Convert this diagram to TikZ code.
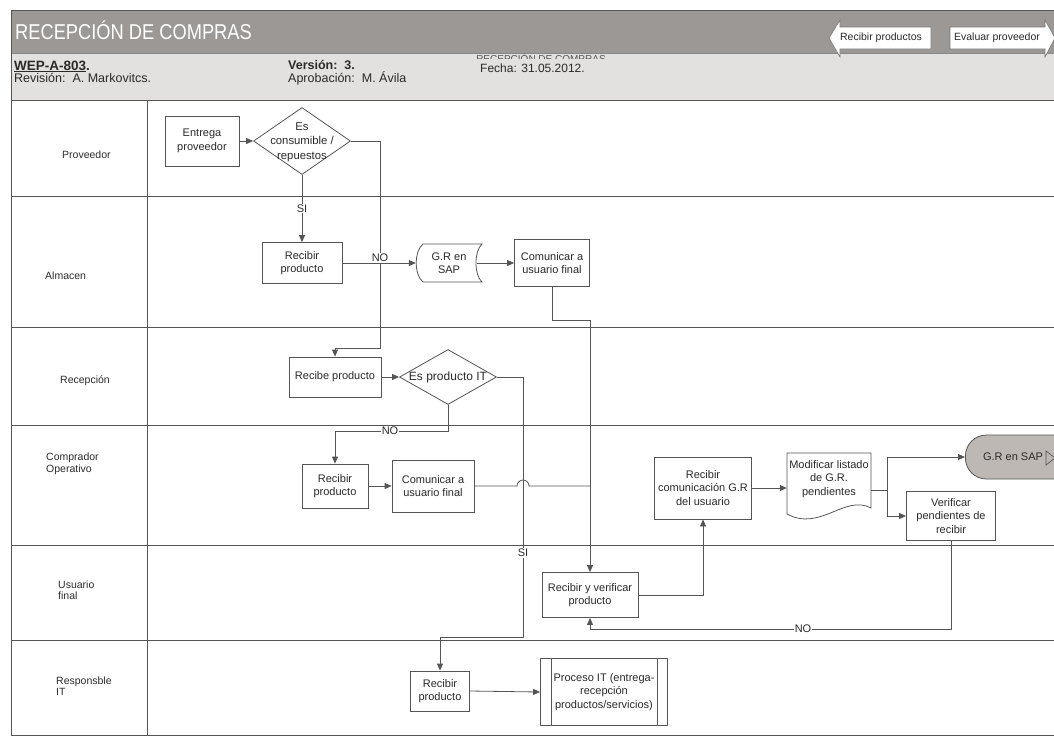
\documentclass[tikz,border=0pt]{standalone}
\usepackage{fontspec}
\setmainfont{Liberation Sans}
\newfontfamily\narrowfont[FakeStretch=0.85]{Liberation Sans}
\usetikzlibrary{shapes.geometric,arrows.meta,calc}

\definecolor{ink}{HTML}{2A2A2A}
\definecolor{rule}{HTML}{555555}
\definecolor{band}{HTML}{9C9895}
\definecolor{bandlight}{HTML}{E3E1DF}
\definecolor{termfill}{HTML}{BDB8B4}

\tikzset{
  box/.style={draw=rule, line width=0.8pt, fill=white, align=center, inner sep=1pt,
              font=\fontsize{11}{13.5}\selectfont, text=ink},
  dia/.style={draw=rule, line width=0.8pt, fill=white, shape=diamond, inner sep=0pt},
  txt/.style={align=center, font=\fontsize{11}{13.5}\selectfont, text=ink, inner sep=0pt},
  flow/.style={draw=rule, line width=0.8pt, -{Triangle[length=7pt,width=6pt]}},
  link/.style={draw=rule, line width=0.8pt},
  lbl/.style={fill=white, inner sep=1pt, font=\fontsize{11}{12}\selectfont, text=ink},
  lane/.style={draw=rule, line width=1pt},
  lanename/.style={align=left, font=\fontsize{10.5}{11.5}\selectfont, text=ink, anchor=west, inner sep=0pt},
  headtxt/.style={anchor=base west, inner sep=0pt, text=ink, font=\fontsize{12.5}{13}\selectfont},
  tab/.style={draw=rule!80, fill=white, line width=0.6pt},
}

\begin{document}
\begin{tikzpicture}[x=1pt, y=-1pt]
\useasboundingbox (0,0) rectangle (1054,740);
\begin{scope}
\clip (0,0) rectangle (1054,740);

% ---------- header ----------
\fill[band] (11,10) rectangle (1060,53);
\fill[bandlight] (11,53) rectangle (1060,100);
\draw[rule, line width=0.8pt] (11,10) -- (1060,10);
\draw[rule!70, line width=0.6pt] (11,53) -- (1060,53);

\node[anchor=base west, inner sep=0pt, text=white,
      font=\narrowfont\fontsize{21.5}{21.5}\selectfont] (title) at (15,39.5) {RECEPCIÓN DE COMPRAS};

% navigation arrows
\draw[tab] (931,27) -- (840,27) -- (840,20) -- (829,38) -- (840,57) -- (840,49) -- (931,49) -- cycle;
\node[txt, font=\fontsize{10.5}{11}\selectfont] (navprev) at (881,38) {Recibir productos};
\draw[tab] (950,27) -- (1045,27) -- (1045,20) -- (1055,38) -- (1045,57) -- (1045,49) -- (950,49) -- cycle;
\node[txt, font=\fontsize{10.5}{11}\selectfont] (navnext) at (997,38) {Evaluar proveedor};

% faint page caption under the title band
\begin{scope}
  \clip (440,53) rectangle (640,58.5);
  \node[anchor=base, inner sep=0pt, text=ink!80, font=\fontsize{10}{10}\selectfont] (cap) at (541,62) {RECEPCIÓN DE COMPRAS};
\end{scope}

\node[headtxt, font=\bfseries\fontsize{13.5}{14}\selectfont] (code) at (14,70) {\underline{WEP-A-803}.};
\node[headtxt] (rev) at (14,82) {Revisión:\ \ A. Markovitcs.};
\node[headtxt, font=\bfseries\fontsize{12.5}{13}\selectfont] (ver) at (288,69) {Versión:\ \ 3.};
\node[headtxt] (apr) at (288,82) {Aprobación:\ \ M. Ávila};
\node[headtxt, font=\fontsize{12}{13}\selectfont] (date) at (480,72) {Fecha: 31.05.2012.};

% ---------- swimlanes ----------
\draw[lane] (11,10) -- (11,735);
\draw[lane] (147,100) -- (147,735);
\foreach \yy in {100,196,327,425,545,640,735}
  \draw[lane] (11,\yy) -- (1060,\yy);

\node[lanename] (l1) at (62,155) {Proveedor};
\node[lanename] (l2) at (45,276) {Almacen};
\node[lanename] (l3) at (60,381) {Recepción};
\node[lanename] (l4) at (46,464) {Comprador\\Operativo};
\node[lanename] (l5) at (58,590) {Usuario\\final};
\node[lanename] (l6) at (56,686) {Responsble\\IT};

% ---------- steps ----------
\node[box, minimum width=74, minimum height=50] (ent) at (202,141) {Entrega\\proveedor};
\node[dia, minimum width=97, minimum height=67] (d1) at (302,141) {};
\node[txt, font=\fontsize{11.3}{14.5}\selectfont] (d1t) at (302,142) {Es\\consumible /\\repuestos};

\node[box, minimum width=80, minimum height=41] (alm1) at (302,263) {Recibir\\producto};
\node[txt, minimum width=66, minimum height=38] (gr1) at (449,263) {};
\draw[rule, line width=0.8pt, fill=white]
  (423,244) .. controls (414,251) and (414,275) .. (423,282) -- (482,282)
  .. controls (474,275) and (474,251) .. (482,244) -- cycle;
\node[txt] at (gr1) {G.R en\\SAP};
\node[box, minimum width=75, minimum height=47] (alm2) at (552,263) {Comunicar a\\usuario final};

\node[box, minimum width=92, minimum height=40] (rec1) at (335,377) {Recibe producto};
\node[dia, minimum width=97, minimum height=55] (d2) at (448,377) {};
\node[txt, font=\fontsize{12}{13}\selectfont] (d2t) at (448,377) {Es producto IT};

\node[box, minimum width=66, minimum height=44] (co1) at (335,486) {Recibir\\producto};
\node[box, minimum width=82, minimum height=52] (co2) at (433,486) {Comunicar a\\usuario final};
\node[box, minimum width=97, minimum height=62] (co3) at (703,488) {Recibir\\comunicación G.R\\del usuario};
\node[txt, minimum width=84, minimum height=55] (co4) at (829,480) {};
\draw[rule, line width=0.8pt, fill=white]
  (787,453) -- (871,453) -- (871,508)
  .. controls (845,494) and (820,532) .. (787,514) -- cycle;
\node[txt] at (829,479) {Modificar listado\\de G.R.\\pendientes};
\node[box, minimum width=89, minimum height=49] (co5) at (951,516) {Verificar\\pendientes de\\recibir};
\node[draw=rule, line width=0.8pt, fill=termfill, rounded corners=21, anchor=west,
      minimum width=125, minimum height=44] (term) at (965,457) {};
\node[txt] (termt) at (1013,457) {G.R en SAP};
\draw[rule, line width=0.7pt] (1046,451) -- (1055,458) -- (1046,465) -- cycle;

\node[box, minimum width=96, minimum height=45] (uf1) at (590,595) {Recibir y verificar\\producto};

\node[box, minimum width=59, minimum height=40] (it1) at (440,691) {Recibir\\producto};
\node[box, minimum width=127, minimum height=67] (it2) at (604,692) {Proceso IT (entrega-\\recepción\\productos/servicios)};
\draw[rule, line width=0.8pt] ($(it2.north west)+(11,0)$) -- ($(it2.south west)+(11,0)$);
\draw[rule, line width=0.8pt] ($(it2.north east)+(-11,0)$) -- ($(it2.south east)+(-11,0)$);

% ---------- connectors ----------
\coordinate (noA) at (380,348);
\coordinate (j1) at (590,320);
\coordinate (j2) at (523,637);
\coordinate (j3) at (335,431);
\coordinate (fork) at (887,490);
\coordinate (j5) at (951,629);

\draw[flow] (ent.east) -- (d1.west);
\draw[flow] (d1.south) -- (alm1.north) node[lbl, pos=0.5] {SI};
\draw[flow] (d1.east) -| (noA) -| (rec1.north);
\node[lbl] at (380,258) {NO};

\draw[flow] (alm1.east) -- (gr1.west);
\draw[flow] ($(gr1.east)+(-5,0)$) -- (alm2.west);
\draw[flow] (alm2.south) |- (j1) -- (uf1.north);

\draw[flow] (rec1.east) -- (d2.west);
\draw[flow] (d2.east) -| (j2) -| (it1.north);
\node[lbl] at (523,553) {SI};
\draw[flow] (d2.south) |- (j3) -- (co1.north);
\node[lbl] at (390,431) {NO};

\draw[flow] (co1.east) -- (co2.west);
\draw[link] (co2.east) -- ($(co2.east -| j2)+(-6,0)$)
  arc[start angle=180, end angle=360, radius=6] -- (co2.east -| j1);

\draw[flow] (uf1.east) -| (co3.south);
\draw[flow] (co3.east) -- (co3.east -| co4.west);
\draw[link] (co4.east |- fork) -- (fork);
\draw[flow] (fork) |- (term.west);
\draw[flow] (fork) |- (co5.west);
\draw[flow] (co5.south) -- (j5) -| (uf1.south);
\node[lbl] at (803,629) {NO};

\draw[flow] (it1.east) -- (it2.west);
\end{scope}
\end{tikzpicture}
\end{document}
